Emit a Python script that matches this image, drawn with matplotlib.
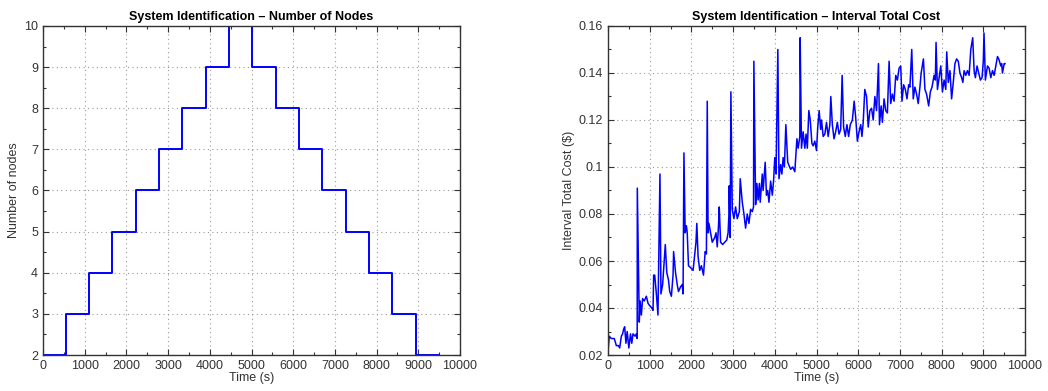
import numpy as np
import matplotlib
matplotlib.use("Agg")
import matplotlib.pyplot as plt
from matplotlib.ticker import MultipleLocator, FuncFormatter

plt.rcParams['font.family'] = ['Liberation Sans', 'DejaVu Sans']

# ---- Left panel: number of nodes (step changes) ----
node_times = [0, 540, 1100, 1660, 2220, 2780, 3340, 3900, 4460, 5020,
              5580, 6140, 6700, 7260, 7820, 8380, 8940, 9500]
node_levels = [2, 3, 4, 5, 6, 7, 8, 9, 10, 9, 8, 7, 6, 5, 4, 3, 2, 2]

# ---- Right panel: interval total cost ----
cost_times = [0, 30, 80, 150, 200, 250, 280, 320, 350, 375, 400, 430, 460, 500, 540,
              570, 600, 650, 680, 700, 703, 750, 770, 800, 830, 870, 920, 960, 1000,
              1050, 1080, 1095, 1120, 1160, 1198, 1246, 1270, 1310, 1374, 1410, 1450,
              1480, 1520, 1560, 1573, 1620, 1660, 1690, 1740, 1780, 1800, 1821, 1850,
              1880, 1900, 1930, 1990, 2040, 2080, 2110, 2130, 2160, 2200, 2240, 2290,
              2330, 2360, 2380, 2400, 2420, 2460, 2500, 2560, 2590, 2620, 2650, 2668,
              2700, 2750, 2800, 2850, 2880, 2900, 2907, 2930, 2947, 2980, 3020, 3060,
              3100, 3150, 3171, 3220, 3260, 3300, 3340, 3380, 3420, 3460, 3490, 3498,
              3540, 3570, 3600, 3630, 3650, 3700, 3720, 3770, 3800, 3830, 3860, 3900,
              3940, 3970, 4000, 4030, 4073, 4100, 4140, 4170, 4200, 4230, 4265, 4310,
              4380, 4430, 4480, 4530, 4560, 4600, 4608, 4640, 4680, 4720, 4750, 4780,
              4816, 4850, 4890, 4920, 4960, 5000, 5030, 5064, 5100, 5120, 5160, 5200,
              5240, 5280, 5320, 5343, 5380, 5420, 5460, 5500, 5540, 5580, 5615, 5650,
              5690, 5730, 5770, 5810, 5860, 5903, 5940, 5980, 6020, 6060, 6090, 6120,
              6158, 6200, 6240, 6280, 6320, 6360, 6400, 6440, 6486, 6510, 6550, 6580,
              6620, 6660, 6700, 6741, 6780, 6820, 6860, 6900, 6940, 6980, 7020, 7050,
              7090, 7130, 7170, 7210, 7240, 7284, 7320, 7360, 7400, 7440, 7480, 7510,
              7564, 7600, 7640, 7690, 7730, 7770, 7820, 7850, 7867, 7900, 7940, 7980,
              8020, 8060, 8100, 8123, 8160, 8200, 8240, 8280, 8320, 8360, 8400, 8440,
              8480, 8510, 8540, 8580, 8620, 8660, 8700, 8746, 8780, 8810, 8850, 8890,
              8930, 8970, 9000, 9017, 9050, 9100, 9140, 9180, 9220, 9260, 9300, 9340,
              9370, 9420, 9440, 9460, 9500, 9520]
cost_values = [0.021, 0.028, 0.027, 0.027, 0.024, 0.024, 0.023, 0.028, 0.029, 0.031, 0.032,
               0.025, 0.030, 0.023, 0.029, 0.025, 0.029, 0.028, 0.029, 0.027, 0.091, 0.034,
               0.043, 0.037, 0.044, 0.043, 0.045, 0.042, 0.041, 0.040, 0.039, 0.054, 0.054,
               0.046, 0.037, 0.097, 0.046, 0.050, 0.067, 0.055, 0.052, 0.047, 0.045, 0.054,
               0.064, 0.055, 0.050, 0.047, 0.049, 0.050, 0.046, 0.106, 0.072, 0.075, 0.072,
               0.058, 0.057, 0.056, 0.063, 0.068, 0.076, 0.062, 0.056, 0.058, 0.054, 0.064,
               0.063, 0.128, 0.072, 0.076, 0.072, 0.068, 0.070, 0.072, 0.066, 0.075, 0.083,
               0.068, 0.067, 0.068, 0.069, 0.072, 0.080, 0.092, 0.070, 0.132, 0.082, 0.078,
               0.083, 0.078, 0.081, 0.095, 0.085, 0.080, 0.074, 0.080, 0.076, 0.082, 0.081,
               0.083, 0.145, 0.084, 0.093, 0.086, 0.093, 0.085, 0.097, 0.090, 0.102, 0.088,
               0.090, 0.085, 0.094, 0.088, 0.094, 0.104, 0.097, 0.150, 0.095, 0.101, 0.097,
               0.104, 0.100, 0.118, 0.102, 0.099, 0.100, 0.098, 0.112, 0.108, 0.113, 0.155,
               0.108, 0.115, 0.108, 0.114, 0.108, 0.124, 0.120, 0.110, 0.109, 0.111, 0.107,
               0.117, 0.124, 0.116, 0.120, 0.113, 0.114, 0.119, 0.113, 0.118, 0.130, 0.118,
               0.112, 0.115, 0.119, 0.114, 0.116, 0.139, 0.117, 0.113, 0.118, 0.113, 0.118,
               0.120, 0.128, 0.121, 0.111, 0.115, 0.118, 0.113, 0.119, 0.133, 0.130, 0.117,
               0.124, 0.125, 0.120, 0.130, 0.124, 0.144, 0.118, 0.126, 0.119, 0.129, 0.124,
               0.123, 0.145, 0.127, 0.131, 0.128, 0.139, 0.137, 0.142, 0.143, 0.128, 0.135,
               0.133, 0.129, 0.135, 0.134, 0.150, 0.129, 0.134, 0.131, 0.127, 0.134, 0.140,
               0.146, 0.133, 0.131, 0.126, 0.132, 0.134, 0.139, 0.137, 0.153, 0.133, 0.138,
               0.143, 0.132, 0.137, 0.133, 0.149, 0.136, 0.141, 0.129, 0.136, 0.144, 0.146,
               0.145, 0.140, 0.138, 0.136, 0.141, 0.139, 0.141, 0.139, 0.150, 0.155, 0.141,
               0.138, 0.143, 0.140, 0.137, 0.138, 0.145, 0.157, 0.137, 0.143, 0.142, 0.138,
               0.141, 0.139, 0.143, 0.147, 0.146, 0.143, 0.144, 0.140, 0.144, 0.144]

x_ticks = [0, 1000, 2000, 3000, 4000, 5000, 6000, 7000, 8000, 9000, 10000]

W, H = 1048, 391
fig = plt.figure(figsize=(W / 100, H / 100), dpi=100)

def px_axes(l, r, t, b):
    return fig.add_axes([l / W, 1 - b / H, (r - l) / W, (b - t) / H])

ax1 = px_axes(43, 460, 26, 355)
ax2 = px_axes(608, 1025, 26, 355)

line_color = '#0000ff'
text_color = '#333333'

ax1.plot(node_times, node_levels, drawstyle='steps-post', color=line_color, lw=1.4)
ax2.plot(cost_times, cost_values, color=line_color, lw=1.1)

def style(ax, ylabel, title):
    ax.set_xlim(0, 10000)
    ax.set_xticks(x_ticks)
    ax.xaxis.set_minor_locator(MultipleLocator(500))
    ax.grid(True, which='major', linestyle=(0, (1, 3)), color='#9a9a9a', lw=0.8)
    ax.tick_params(which='both', direction='in', top=True, right=True,
                   labelsize=9, colors=text_color, labelcolor=text_color, width=0.8)
    ax.tick_params(which='major', length=4)
    ax.tick_params(which='minor', length=2)
    for s in ax.spines.values():
        s.set_color('#333333')
        s.set_linewidth(1.0)
    ax.set_xlabel('Time (s)', fontsize=9, color=text_color, labelpad=0)
    ax.set_ylabel(ylabel, fontsize=9, color=text_color, labelpad=3)
    ax.set_title(title, fontsize=9, fontweight='bold', pad=4)

style(ax1, 'Number of nodes', 'System Identification \u2013 Number of Nodes')
ax1.set_ylim(2, 10)
ax1.set_yticks(range(2, 11))
ax1.yaxis.set_minor_locator(MultipleLocator(0.5))

style(ax2, 'Interval Total Cost ($)', 'System Identification \u2013 Interval Total Cost')
ax2.set_ylim(0.02, 0.16)
ax2.set_yticks([0.02, 0.04, 0.06, 0.08, 0.10, 0.12, 0.14, 0.16])
ax2.yaxis.set_minor_locator(MultipleLocator(0.01))
ax2.yaxis.set_major_formatter(FuncFormatter(lambda v, p: '0.1' if abs(v - 0.1) < 1e-9 else '%.2f' % v))

fig.savefig('out.png', dpi=100)
